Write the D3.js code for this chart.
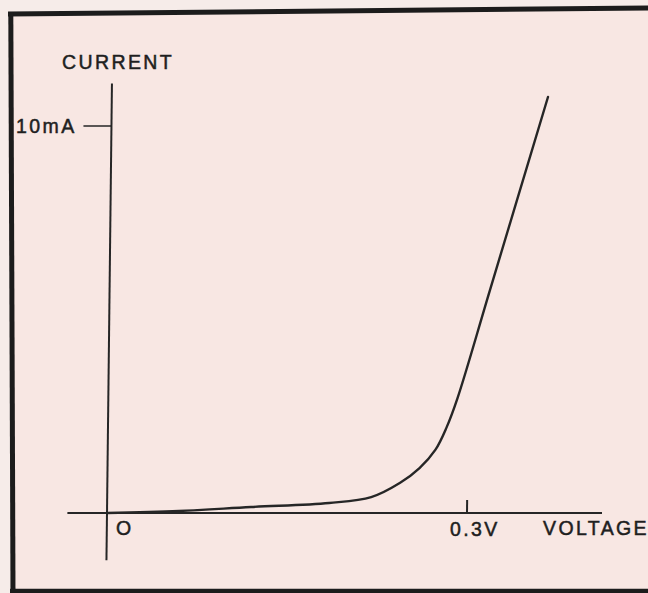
<!DOCTYPE html>
<html>
<head>
<meta charset="utf-8">
<script src="https://cdn.jsdelivr.net/npm/d3@7/dist/d3.min.js"></script>
<style>
  html, body { margin: 0; padding: 0; background: #f6ece9; }
  svg { display: block; }
  text { font-family: "Liberation Sans", Arial, sans-serif; fill: #1f1f1f; stroke: #1f1f1f; stroke-width: 0.5; }
</style>
</head>
<body>
<svg id="chart" width="648" height="593"></svg>
<script>
// Forward characteristic of a diode: voltage (V) against current (mA)
const voltage = [0, 0.06, 0.12, 0.185, 0.22, 0.244, 0.26, 0.273, 0.282, 0.291, 0.317, 0.3635];
const current = [0, 0.05, 0.155, 0.26, 0.41, 0.78, 1.16, 1.63, 2.2, 2.97, 5.76, 10.75];

// Axis extents and the single marked tick on each axis
const voltageExtent = [-0.033, 0.4125];
const currentExtent = [-1.22, 11.1];
const voltageTick = [0.3];
const voltageTickLabels = ["0.3V"];
const currentTick = [10];
const currentTickLabels = ["10mA"];
const originLabel = "O";
const xTitle = "VOLTAGE";
const yTitle = "CURRENT";

const W = 648, H = 593;
const ink = "#262626";

const svg = d3.select("#chart");

const x = d3.scaleLinear().domain([0, 0.3]).range([107, 467]);
const y = d3.scaleLinear().domain([0, 10]).range([513, 126]);

// paper
svg.append("rect").attr("width", W).attr("height", H).attr("fill", "#f6ece9");
svg.append("path")
  .attr("d", `M11,14 L648,8 L648,591 L13,591 Z`)
  .attr("fill", "#f8e7e3");

// frame
const frame = svg.append("g").attr("stroke", "#1c1c1c").attr("fill", "none");
frame.append("line").attr("x1", 8).attr("y1", 14).attr("x2", 648).attr("y2", 8).attr("stroke-width", 5);
frame.append("line").attr("x1", 10.8).attr("y1", 12).attr("x2", 13).attr("y2", 593).attr("stroke-width", 5);
frame.append("line").attr("x1", 10).attr("y1", 591).attr("x2", 648).attr("y2", 591).attr("stroke-width", 4.5);

// plot group, slightly sheared as in the printed figure
const ox = x(0), oy = y(0);
const plot = svg.append("g")
  .attr("transform", `translate(${ox},${oy}) skewX(-0.66) translate(${-ox},${-oy})`);

// axes
plot.append("line")
  .attr("x1", x(voltageExtent[0])).attr("x2", x(voltageExtent[1]))
  .attr("y1", y(0)).attr("y2", y(0))
  .attr("stroke", ink).attr("stroke-width", 2);
plot.append("line")
  .attr("x1", x(0)).attr("x2", x(0))
  .attr("y1", y(currentExtent[0])).attr("y2", y(currentExtent[1]))
  .attr("stroke", ink).attr("stroke-width", 2);

// voltage tick (short upward mark)
plot.selectAll(".vtick").data(voltageTick).join("line")
  .attr("class", "vtick")
  .attr("x1", d => x(d)).attr("x2", d => x(d))
  .attr("y1", y(0)).attr("y2", y(0) - 13)
  .attr("stroke", ink).attr("stroke-width", 2);

// current tick (dash to the left of the axis)
plot.selectAll(".ctick").data(currentTick).join("line")
  .attr("class", "ctick")
  .attr("x1", x(0) - 28).attr("x2", x(0))
  .attr("y1", d => y(d)).attr("y2", d => y(d))
  .attr("stroke", ink).attr("stroke-width", 1.4);

// characteristic curve
const pts = voltage.map((v, i) => [v, current[i]]);
plot.append("path")
  .datum(pts)
  .attr("fill", "none")
  .attr("stroke", ink)
  .attr("stroke-width", 2.4)
  .attr("stroke-linecap", "round")
  .attr("d", d3.line().x(d => x(d[0])).y(d => y(d[1])).curve(d3.curveCatmullRom.alpha(0.5)));

// labels
const fs = 19.5, ls = 2.4;
const label = (t, px, py) => svg.append("text")
  .attr("x", px).attr("y", py)
  .attr("font-size", fs).attr("letter-spacing", ls)
  .text(t);

label(yTitle, 62, 69);
currentTick.forEach((d, i) => label(currentTickLabels[i], 16, y(d) + 7));
label(originLabel, x(0) + 9, y(0) + 22);
voltageTick.forEach((d, i) => label(voltageTickLabels[i], x(d) - 17, y(0) + 23));
label(xTitle, 543, y(0) + 22);
</script>
</body>
</html>
